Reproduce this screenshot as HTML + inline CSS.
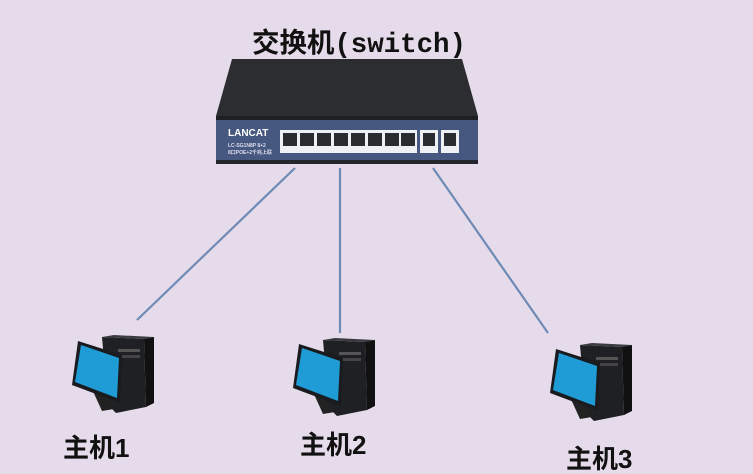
<!DOCTYPE html>
<html><head><meta charset="utf-8"><style>
html,body{margin:0;padding:0;background:#e6dbea;}
svg{display:block}
text{font-family:"Liberation Sans","Noto Sans CJK SC",sans-serif;font-weight:bold;fill:#111}
</style></head><body>
<svg width="753" height="474" viewBox="0 0 753 474" xmlns="http://www.w3.org/2000/svg">
<rect width="753" height="474" fill="#e6dbea"/>
<text x="252" y="52" font-size="27.5" textLength="214" style="font-family:'Liberation Mono','Noto Sans CJK SC',monospace">交换机(switch)</text>
<!-- switch -->
<polygon points="232,59 462,59 478,116 216,116" fill="#2b2d31"/>
<polygon points="216,116 478,116 478,122 216,122" fill="#1e1f22"/>
<rect x="216" y="120" width="262" height="42" fill="#46587f"/>
<rect x="216" y="160" width="262" height="4" fill="#23262c"/>
<text x="228" y="136" font-size="10" style="fill:#fff">LANCAT</text>
<text x="228" y="147" font-size="5" style="fill:#dde">LC-SG1N8P 8+2</text>
<text x="228" y="154" font-size="5" style="fill:#dde">8口POE+2千兆上联</text>
<rect x="280" y="130" width="137" height="23" fill="#eef0f4"/>
<g fill="#2a2c30">
<rect x="283" y="133" width="14" height="13"/><rect x="300" y="133" width="14" height="13"/>
<rect x="317" y="133" width="14" height="13"/><rect x="334" y="133" width="14" height="13"/>
<rect x="351" y="133" width="14" height="13"/><rect x="368" y="133" width="14" height="13"/>
<rect x="385" y="133" width="14" height="13"/><rect x="401" y="133" width="14" height="13"/>
</g>
<rect x="420" y="130" width="18" height="23" fill="#eef0f4"/><rect x="423" y="133" width="12" height="13" fill="#2a2c30"/>
<rect x="441" y="130" width="18" height="23" fill="#eef0f4"/><rect x="444" y="133" width="12" height="13" fill="#2a2c30"/>
<!-- lines -->
<g stroke="#6f8ab5" stroke-width="2.2">
<line x1="295" y1="168" x2="137" y2="320"/>
<line x1="340" y1="168" x2="340" y2="333"/>
<line x1="433" y1="168" x2="548" y2="333"/>
</g>
<defs>
<g id="pc">
<polygon points="30,2 72,4 74,72 44,78 36,70" fill="#1f2024"/>
<polygon points="30,2 42,0 82,2 72,4" fill="#3a3b40"/>
<polygon points="72,4 82,2 82,68 74,72" fill="#111"/>
<rect x="46" y="14" width="22" height="3" fill="#555"/>
<rect x="46" y="20" width="22" height="3" fill="#444"/>
<polygon points="20,54 32,56 42,74 30,76" fill="#222"/>
<polygon points="6,6 50,20 48,68 0,50" fill="#1a1b1f"/>
<polygon points="9,10 47,23 45,63 3,47" fill="#1f9cd6"/>
</g>
</defs>
<use href="#pc" transform="translate(72,335)"/>
<use href="#pc" transform="translate(293,338)"/>
<use href="#pc" transform="translate(550,343)"/>
<text x="63" y="457" font-size="26">主机1</text>
<text x="300" y="454" font-size="26">主机2</text>
<text x="566" y="468" font-size="26">主机3</text>
</svg>
</body></html>
